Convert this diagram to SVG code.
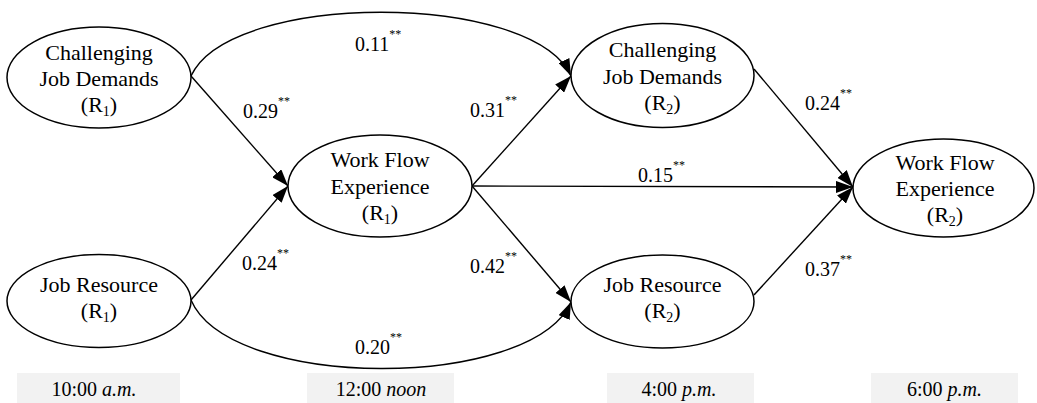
<svg xmlns="http://www.w3.org/2000/svg" width="1037" height="403" viewBox="0 0 1037 403">
  <style>
    text { font-family: 'Liberation Serif', 'DejaVu Serif', serif; }
    .node ellipse { fill: #ffffff; stroke: #000000; stroke-width: 1.5; }
    .node text { font-size: 22px; fill: #000; text-anchor: middle; }
    .sub { font-size: 14px; }
    .edge { fill: none; stroke: #000000; stroke-width: 1.4; marker-end: url(#arrow); }
    .coef { font-size: 20px; fill: #000; }
    .sig { font-size: 12px; }
    .time rect { fill: #f2f2f2; stroke: none; }
    .time text { font-size: 20px; fill: #000; text-anchor: middle; }
  </style>
  <defs>
    <marker id="arrow" viewBox="0 0 17 12" refX="17" refY="6" markerWidth="17" markerHeight="12" markerUnits="userSpaceOnUse" orient="auto">
      <path d="M0,0 L17,6 L0,12 Z" fill="#000"/>
    </marker>
  </defs>

  <rect width="1037" height="403" fill="#ffffff"/>

  <!-- paths between constructs -->
  <g id="connectors">
    <path class="edge" d="M191,76 L288,186"/>
    <path class="edge" d="M191,300 L288,186"/>
    <path class="edge" d="M191,76 C230,-9 532,-9 571,76"/>
    <path class="edge" d="M191,300 C230,391 532,391 571,302"/>
    <path class="edge" d="M472,186 L571,76"/>
    <path class="edge" d="M472,186 L571,302"/>
    <path class="edge" d="M472,186 L853,187"/>
    <path class="edge" d="M754,69 L853,187"/>
    <path class="edge" d="M754,295 L853,187"/>
  </g>

  <!-- path coefficients -->
  <g id="coefficients" font-family="Liberation Serif, DejaVu Serif, serif">
    <text class="coef" x="355" y="51">0.11<tspan class="sig" dy="-13">**</tspan></text>
    <text class="coef" x="243" y="118">0.29<tspan class="sig" dy="-13">**</tspan></text>
    <text class="coef" x="242" y="270">0.24<tspan class="sig" dy="-13">**</tspan></text>
    <text class="coef" x="470" y="117">0.31<tspan class="sig" dy="-13">**</tspan></text>
    <text class="coef" x="470" y="273">0.42<tspan class="sig" dy="-13">**</tspan></text>
    <text class="coef" x="638" y="182">0.15<tspan class="sig" dy="-13">**</tspan></text>
    <text class="coef" x="805" y="110">0.24<tspan class="sig" dy="-13">**</tspan></text>
    <text class="coef" x="805" y="276">0.37<tspan class="sig" dy="-13">**</tspan></text>
    <text class="coef" x="355" y="354">0.20<tspan class="sig" dy="-13">**</tspan></text>
  </g>

  <g id="cjd1" class="node">
    <ellipse cx="99" cy="77.5" rx="92" ry="50.5"/>
    <text x="99" y="60">Challenging</text>
    <text x="99" y="86">Job Demands</text>
    <text x="99" y="112">(R<tspan class="sub" dy="4">1</tspan><tspan dy="-4">)</tspan></text>
  </g>

  <g id="jr1" class="node">
    <ellipse cx="99" cy="301" rx="92" ry="46.5"/>
    <text x="99" y="292">Job Resource</text>
    <text x="99" y="318">(R<tspan class="sub" dy="4">1</tspan><tspan dy="-4">)</tspan></text>
  </g>

  <g id="wfe1" class="node">
    <ellipse cx="380" cy="186" rx="92" ry="51"/>
    <text x="380" y="167">Work Flow</text>
    <text x="380" y="194">Experience</text>
    <text x="380" y="220">(R<tspan class="sub" dy="4">1</tspan><tspan dy="-4">)</tspan></text>
  </g>

  <g id="cjd2" class="node">
    <ellipse cx="662.5" cy="75.5" rx="91.5" ry="52"/>
    <text x="662.5" y="57">Challenging</text>
    <text x="662.5" y="84">Job Demands</text>
    <text x="662.5" y="110">(R<tspan class="sub" dy="4">2</tspan><tspan dy="-4">)</tspan></text>
  </g>

  <g id="jr2" class="node">
    <ellipse cx="662.5" cy="301.5" rx="91.5" ry="46.5"/>
    <text x="662.5" y="292">Job Resource</text>
    <text x="662.5" y="318">(R<tspan class="sub" dy="4">2</tspan><tspan dy="-4">)</tspan></text>
  </g>

  <g id="wfe2" class="node">
    <ellipse cx="943.5" cy="188" rx="90.5" ry="49"/>
    <text x="945" y="170">Work Flow</text>
    <text x="945" y="196">Experience</text>
    <text x="945" y="222">(R<tspan class="sub" dy="4">2</tspan><tspan dy="-4">)</tspan></text>
  </g>

  <!-- time-of-day labels -->
  <g id="times" class="time">
    <rect x="17" y="373" width="163" height="30"/>
    <text x="94" y="396">10:00 <tspan font-style="italic">a.m.</tspan></text>
    <rect x="307" y="373" width="147" height="30"/>
    <text x="381" y="396">12:00 <tspan font-style="italic">noon</tspan></text>
    <rect x="607" y="373" width="147" height="30"/>
    <text x="679" y="396">4:00 <tspan font-style="italic">p.m.</tspan></text>
    <rect x="871" y="373" width="147" height="30"/>
    <text x="944.5" y="396">6:00 <tspan font-style="italic">p.m.</tspan></text>
  </g>
</svg>
